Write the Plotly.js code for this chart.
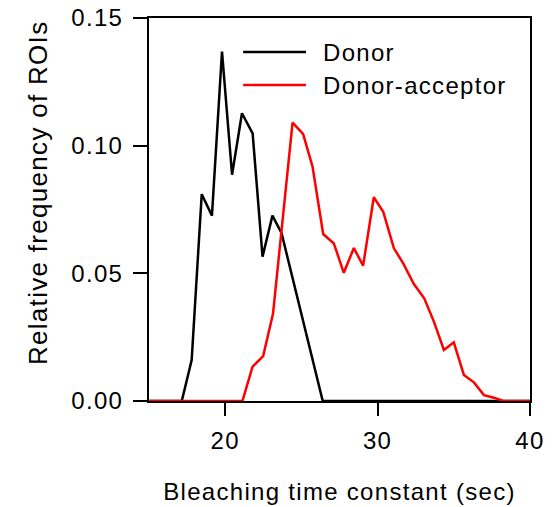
<!DOCTYPE html>
<html>
<head>
<meta charset="utf-8">
<script src="https://cdn.plot.ly/plotly-3.0.1.min.js"></script>
<style>
html,body{margin:0;padding:0;background:#fff;}
#chart{width:556px;height:507px;}
#chart text{letter-spacing:1.3px;}
</style>
</head>
<body>
<div id="chart"></div>
<script>
const seriesNames = ["Donor", "Donor-acceptor"];
const donorX = [15, 17.15, 17.8, 18.46, 19.13, 19.79, 20.45, 21.1, 21.8, 22.45, 23.1, 23.7, 26.4, 40];
const donorY = [0, 0, 0.016, 0.081, 0.0726, 0.1368, 0.0886, 0.1127, 0.1048, 0.0565, 0.0726, 0.0657, 0, 0];
const accX = [15, 21.13, 21.79, 22.49, 23.14, 23.78, 24.42, 25.11, 25.73, 26.43, 27.13, 27.78, 28.44, 29.05, 29.75, 30.37, 31.07, 31.68, 32.38, 33.06, 33.7, 34.35, 35.0, 35.66, 36.32, 36.98, 37.63, 38.25, 40];
const accY = [0, 0, 0.0134, 0.0176, 0.0343, 0.0717, 0.109, 0.1046, 0.0918, 0.0654, 0.0617, 0.0502, 0.0599, 0.053, 0.0798, 0.0741, 0.0598, 0.0539, 0.0458, 0.0402, 0.031, 0.020, 0.023, 0.0102, 0.0073, 0.0023, 0.0013, 0, 0];
const xTicks = [20, 30, 40];
const yTicks = [0, 0.05, 0.10, 0.15];
const yTickText = ["0.00", "0.05", "0.10", "0.15"];
const xTitle = "Bleaching time constant (sec)";
const yTitle = "Relative frequency of ROIs";
const colors = ["#000000", "#ff0000"];

const font = {family: "Liberation Sans, Arial, sans-serif", size: 24, color: "#000"};
const yTitleFont = {family: "Liberation Sans, Arial, sans-serif", size: 26, color: "#000"};

const traces = [
  {x: donorX, y: donorY, mode: "lines", name: seriesNames[0], line: {color: colors[0], width: 2.5}, showlegend: false},
  {x: accX, y: accY, mode: "lines", name: seriesNames[1], line: {color: colors[1], width: 2.5}, showlegend: false}
];

const legY = [0.911, 0.825];
const shapes = legY.map((yy, i) => ({type: "line", xref: "paper", yref: "paper", x0: 0.247, x1: 0.412, y0: yy, y1: yy, line: {color: colors[i], width: 2.5}}));
const annotations = legY.map((yy, i) => ({xref: "paper", yref: "paper", x: 0.451, y: yy, xanchor: "left", yanchor: "middle", align: "left", text: seriesNames[i], showarrow: false, font: font}));
annotations.push({xref: "paper", yref: "paper", x: -0.291, y: 0.543, xanchor: "center", yanchor: "middle", textangle: -90, text: yTitle, showarrow: false, font: yTitleFont});

const layout = {
  width: 556, height: 507,
  margin: {l: 149, r: 26, t: 18, b: 106},
  paper_bgcolor: "#fff", plot_bgcolor: "#fff",
  font: font,
  showlegend: false,
  xaxis: {
    range: [15, 40], tickvals: xTicks, ticks: "outside", ticklen: 13, tickwidth: 2, tickcolor: "#000",
    showline: true, linewidth: 2, linecolor: "#000", mirror: true, showgrid: false, zeroline: false,
    tickfont: font, ticklabelstandoff: 4,
    title: {text: xTitle, font: font, standoff: 30}
  },
  yaxis: {
    range: [0, 0.15], tickvals: yTicks, ticktext: yTickText, ticks: "outside", ticklen: 14, tickwidth: 2, tickcolor: "#000",
    showline: true, linewidth: 2, linecolor: "#000", mirror: true, showgrid: false, zeroline: false,
    tickfont: font, ticklabelstandoff: 5
  },
  shapes: shapes,
  annotations: annotations
};

Plotly.newPlot("chart", traces, layout, {displayModeBar: false, staticPlot: true});
</script>
</body>
</html>
